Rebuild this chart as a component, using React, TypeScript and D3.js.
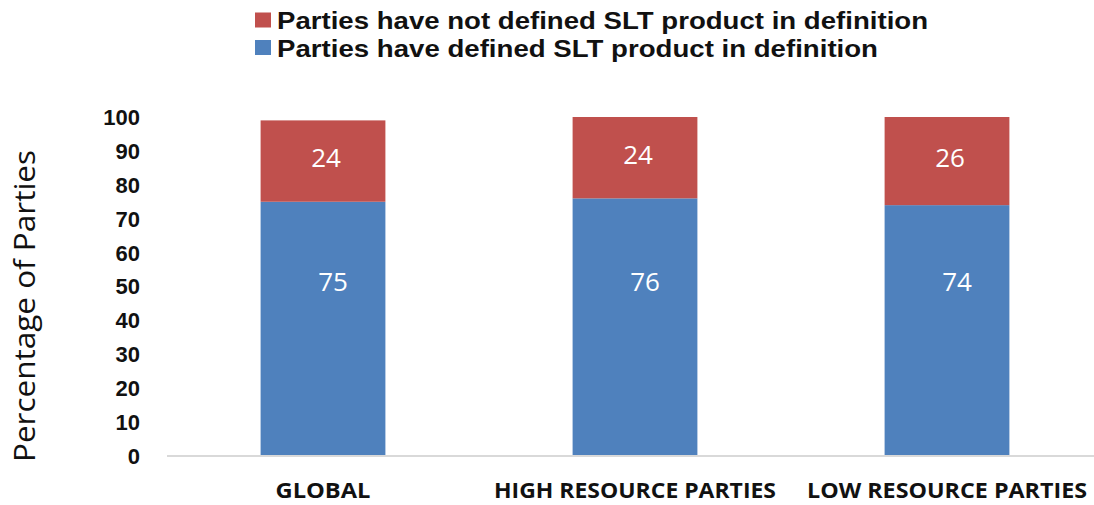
import React from "react";
import * as d3 from "d3";

const categories = ["GLOBAL", "HIGH RESOURCE PARTIES", "LOW RESOURCE PARTIES"];
const definedValues = [75, 76, 74];
const notDefinedValues = [24, 24, 26];
const yTicks = [0, 10, 20, 30, 40, 50, 60, 70, 80, 90, 100];
const legendLabels = [
  "Parties have not defined SLT product in definition",
  "Parties have defined SLT product in definition",
];
const yTitle = "Percentage of Parties";

const W = 1094;
const H = 505;
const RED = "#C0504D";
const BLUE = "#4F81BD";

export default function App() {
  const x = d3
    .scaleBand<string>()
    .domain(categories)
    .range([167, 1103])
    .paddingInner(0.6)
    .paddingOuter(0.3);
  const y = d3.scaleLinear().domain([0, 100]).range([456, 117]);
  const bw = x.bandwidth();
  const catLen = [95, 282, 280];
  const legendLen = [651, 601];

  return (
    <svg
      width={W}
      height={H}
      style={{ position: "absolute", left: 0, top: 0, background: "#fff" }}
    >
      {/* legend */}
      {legendLabels.map((l, i) => (
        <g key={l}>
          <rect x={255} y={12.5 + i * 27.5} width={16} height={15} fill={i === 0 ? RED : BLUE} />
          <text
            x={277}
            y={28.5 + i * 28.2}
            fontFamily="Liberation Sans, Arial, sans-serif"
            fontWeight="bold"
            fontSize={24.5}
            fill="#111"
            textLength={legendLen[i]}
            lengthAdjust="spacingAndGlyphs"
          >
            {l}
          </text>
        </g>
      ))}

      {/* y axis title */}
      <text
        transform={`translate(35,306) rotate(-90)`}
        textAnchor="middle"
        fontFamily="Open Sans, sans-serif"
        fontSize={29}
        fill="#111"
        textLength={312}
        lengthAdjust="spacingAndGlyphs"
      >
        {yTitle}
      </text>

      {/* y ticks */}
      {yTicks.map((t) => (
        <text
          key={t}
          x={140}
          y={y(t)}
          dy="0.36em"
          textAnchor="end"
          fontFamily="Liberation Sans, Arial, sans-serif"
          fontWeight="bold"
          fontSize={22}
          fill="#111"
        >
          {t}
        </text>
      ))}

      {/* bars */}
      {categories.map((c, i) => {
        const x0 = x(c)!;
        const d = definedValues[i];
        const n = notDefinedValues[i];
        return (
          <g key={c}>
            <rect x={x0} y={y(d)} width={bw} height={y(0) - y(d)} fill={BLUE} />
            <rect x={x0} y={y(d + n)} width={bw} height={y(d) - y(d + n)} fill={RED} />
            <text
              x={x0 + bw / 2 + 3}
              y={(y(d) + y(d + n)) / 2 - 3}
              dy="0.35em"
              textAnchor="middle"
              fontFamily="Open Sans, sans-serif"
              fontSize={26}
              fill="#fff"
            >
              {n}
            </text>
            <text
              x={x0 + bw / 2 + 10}
              y={y(51.5)}
              dy="0.35em"
              textAnchor="middle"
              fontFamily="Open Sans, sans-serif"
              fontSize={26}
              fill="#fff"
            >
              {d}
            </text>
          </g>
        );
      })}

      {/* baseline */}
      <line x1={167} x2={W} y1={y(0)} y2={y(0)} stroke="#d9d9d9" strokeWidth={2} />

      {/* category labels */}
      {categories.map((c, i) => (
        <text
          key={c}
          x={x(c)! + bw / 2}
          y={498}
          textAnchor="middle"
          fontFamily="Open Sans, sans-serif"
          fontWeight="bold"
          fontSize={21}
          fill="#111"
          textLength={catLen[i]}
          lengthAdjust="spacingAndGlyphs"
        >
          {c}
        </text>
      ))}
    </svg>
  );
}
